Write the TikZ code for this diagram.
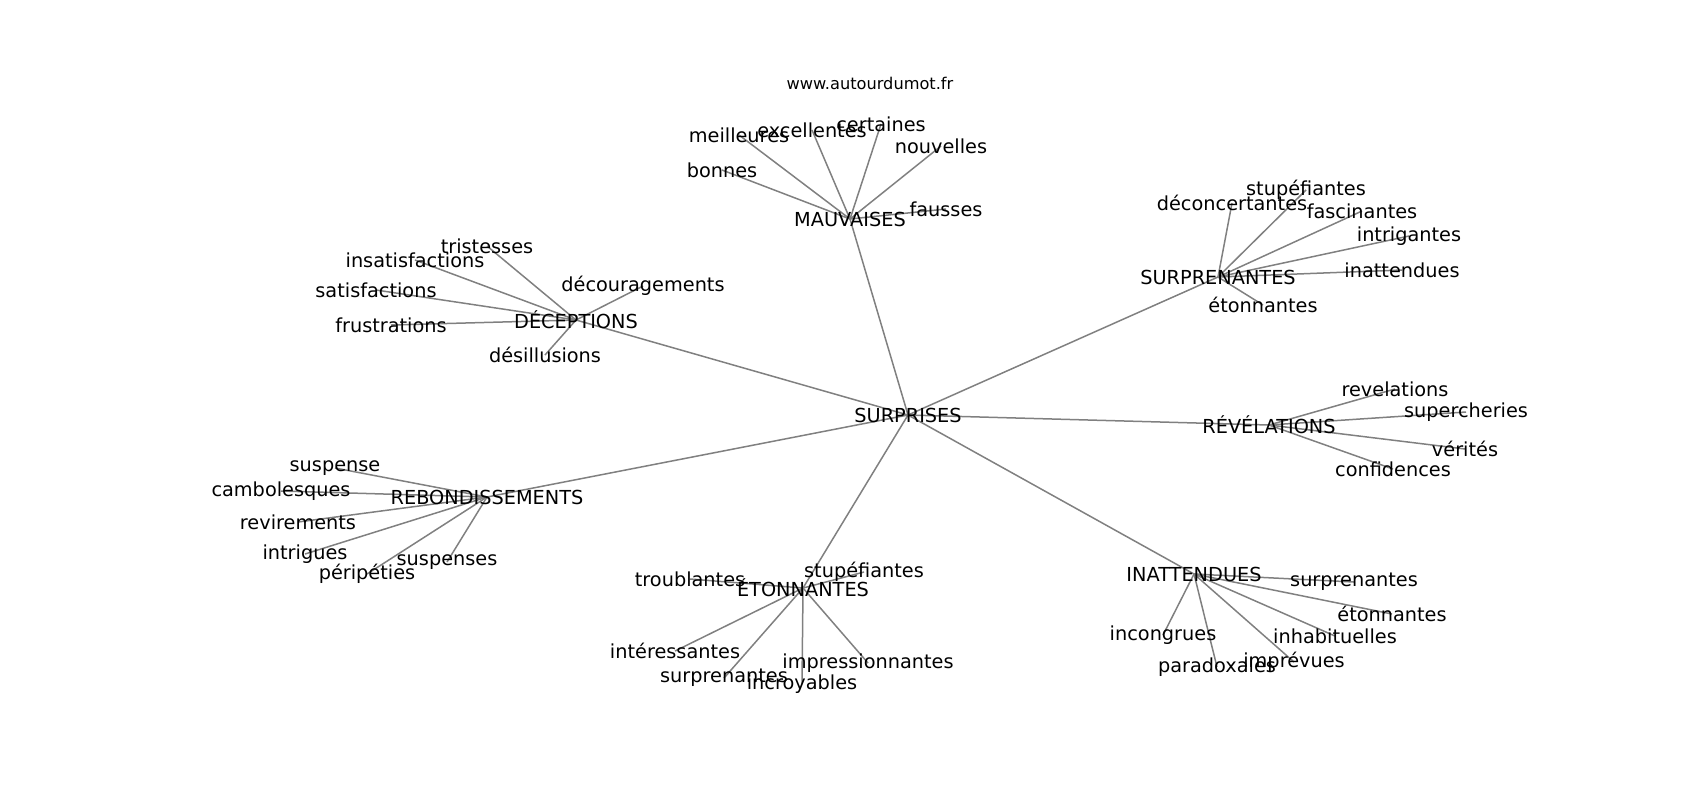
\documentclass[tikz,border=0pt]{standalone}
\usepackage{fontspec}
\setmainfont{DejaVu Sans}
\usetikzlibrary{positioning, backgrounds}

\tikzset{
  word/.style={inner sep=0pt, font=\fontsize{9.65}{11}\selectfont},
  site/.style={inner sep=0pt, font=\fontsize{8.1}{10}\selectfont},
  link/.style={draw=gray, line width=0.75pt},
}

\begin{document}
\begin{tikzpicture}[x=0.5pt, y=-0.5pt]
		\useasboundingbox (0,0) rectangle (1700,800);
		\node[site] (www) at (870,83) {www.autourdumot.fr};
		% hubs
		\node[word] (surprises) at (908,415) {SURPRISES};
		\node[word] (mauvaises) at (850,219) {MAUVAISES};
		\node[word] (surpren) at (1218,277) {SURPRENANTES};
		\node[word] (deceptions) at (576,320) {DÉCEPTIONS};
		\node[word] (revelations) at (1269,425) {RÉVÉLATIONS};
		\node[word] (rebond) at (487,497) {REBONDISSEMENTS};
		\node[word] (etonn) at (803,588) {ÉTONNANTES};
		\node[word] (inatt) at (1194,574) {INATTENDUES};
		% mauvaises
		\node[word] (m1) at (739,135) {meilleures};
		\node[word] (m2) at (812,130) {excellentes};
		\node[word] (m3) at (881,124) {certaines};
		\node[word] (m4) at (941,146) {nouvelles};
		\node[word] (m5) at (722,170) {bonnes};
		\node[word] (m6) at (946,209) {fausses};
		% surprenantes
		\node[word] (s1) at (1232,203) {déconcertantes};
		\node[word] (s2) at (1306,190) {stupéfiantes};
		\node[word] (s3) at (1362,211) {fascinantes};
		\node[word] (s4) at (1409,236) {intrigantes};
		\node[word] (s5) at (1402,270) {inattendues};
		\node[word] (s6) at (1263,305) {étonnantes};
		% deceptions
		\node[word] (d1) at (487,246) {tristesses};
		\node[word] (d2) at (415,260) {insatisfactions};
		\node[word] (d3) at (376,290) {satisfactions};
		\node[word] (d4) at (391,325) {frustrations};
		\node[word] (d5) at (643,286) {découragements};
		\node[word] (d6) at (545,355) {désillusions};
		% revelations
		\node[word] (r1) at (1395,389) {revelations};
		\node[word] (r2) at (1466,412) {supercheries};
		\node[word] (r3) at (1465,449) {vérités};
		\node[word] (r4) at (1393,469) {confidences};
		% rebondissements
		\node[word] (b1) at (335,468) {suspense};
		\node[word] (b2) at (281,491) {cambolesques};
		\node[word] (b3) at (298,522) {revirements};
		\node[word] (b4) at (305,554) {intrigues};
		\node[word] (b5) at (367,574) {péripéties};
		\node[word] (b6) at (447,562) {suspenses};
		% etonnantes
		\node[word] (e1) at (690,579) {troublantes};
		\node[word] (e2) at (864,572) {stupéfiantes};
		\node[word] (e3) at (675,651) {intéressantes};
		\node[word] (e4) at (724,678) {surprenantes};
		\node[word] (e5) at (802,684) {incroyables};
		\node[word] (e6) at (868,663) {impressionnantes};
		% inattendues
		\node[word] (i1) at (1354,582) {surprenantes};
		\node[word] (i2) at (1392,614) {étonnantes};
		\node[word] (i3) at (1163,635) {incongrues};
		\node[word] (i4) at (1335,636) {inhabituelles};
		\node[word] (i5) at (1217,667) {paradoxales};
		\node[word] (i6) at (1294,662) {imprévues};

		\begin{scope}[on background layer]
		\draw[link] (surprises.center) edge (mauvaises.center)
			  (surprises.center) edge (surpren.center)
			  (surprises.center) edge (deceptions.center)
			  (surprises.center) edge (revelations.center)
			  (surprises.center) edge (rebond.center)
			  (surprises.center) edge (etonn.center)
			  (surprises.center) edge (inatt.center)
			  %
			  (mauvaises.center) edge (m1.center) edge (m2.center) edge (m3.center)
			  edge (m4.center) edge (m5.center) edge (m6.center)
			  %
			  (surpren.center) edge (s1.center) edge (s2.center) edge (s3.center)
			  edge (s4.center) edge (s5.center) edge (s6.center)
			  %
			  (deceptions.center) edge (d1.center) edge (d2.center) edge (d3.center)
			  edge (d4.center) edge (d5.center) edge (d6.center)
			  %
			  (revelations.center) edge (r1.center) edge (r2.center) edge (r3.center)
			  edge (r4.center)
			  %
			  (rebond.center) edge (b1.center) edge (b2.center) edge (b3.center)
			  edge (b4.center) edge (b5.center) edge (b6.center)
			  %
			  (etonn.center) edge (e1.center) edge (e2.center) edge (e3.center)
			  edge (e4.center) edge (e5.center) edge (e6.center)
			  %
			  (inatt.center) edge (i1.center) edge (i2.center) edge (i3.center)
			  edge (i4.center) edge (i5.center) edge (i6.center)
		;
		\end{scope}
\end{tikzpicture}
\end{document}
